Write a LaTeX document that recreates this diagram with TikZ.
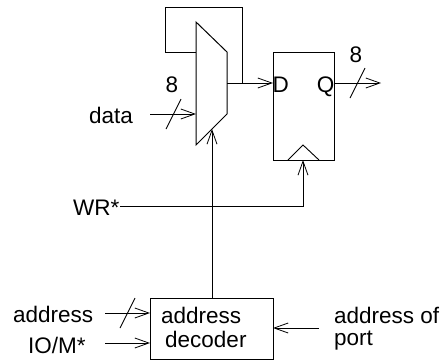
\documentclass[tikz,border=0pt]{standalone}
\usepackage{fontspec}
\setmainfont{Liberation Sans}
\usetikzlibrary{arrows.meta}
\tikzset{
  x=1pt,y=-1pt,
  wire/.style={line width=0.9pt,black},
  arr/.style={wire,-{Straight Barb[length=14pt,width=10pt,line width=0.8pt]}},
  lbl/.style={inner sep=0pt,font=\fontsize{22.5}{24}\selectfont},
  boxn/.style={draw,line width=1pt,inner sep=0pt,minimum width=#1,anchor=north west},
}
\begin{document}
\begin{tikzpicture}
\useasboundingbox (0,0) rectangle (445,360);
% register and decoder
\node[boxn=61pt,minimum height=108pt] (dff) at (273,52) {};
\node[boxn=123pt,minimum height=61pt] (dec) at (150,298) {};
% multiplexer
\coordinate (mt) at (196,22);
\coordinate (mb) at (196,145);
\coordinate (mrt) at (227,52);
\coordinate (mrb) at (227,114);
\coordinate (mfb) at (196,52);
\coordinate (mout) at (227,83);
\coordinate (mdata) at (196,114);
\coordinate (msel) at (212,129);
\draw[line width=1pt,line join=miter] (mt) -- (mrt) -- (mrb) -- (mb) -- cycle;
% clock triangle
\coordinate (cl) at (288,160);
\coordinate (ct) at (303,145);
\coordinate (cr) at (319,160);
\coordinate (clk) at (303,160);
\draw[wire] (cl) -- (ct) -- (cr);
% feedback
\coordinate (f1) at (165.5,52);
\coordinate (f2) at (165.5,7);
\coordinate (f3) at (242,7);
\coordinate (f4) at (242,83);
\draw[wire] (mfb) -- (f1) -- (f2) -- (f3) -- (f4);
% mux output
\coordinate (din) at (273,83);
\draw[arr] (mout) -- (din);
% labels
\node[lbl,anchor=base west] (d) at (272.5,92) {D};
\node[lbl,anchor=base east] (q) at (334.5,92) {Q};
\node[lbl,anchor=base] (n8a) at (172,92) {8};
\node[lbl,anchor=base] (n8b) at (356,62) {8};
\node[lbl,anchor=base west] (data) at (89,123) {data};
\node[lbl,anchor=base west] (wr) at (73,215) {WR*};
\node[lbl,anchor=base west] (addr) at (13,322) {address};
\node[lbl,anchor=base west] (iom) at (28,353) {IO/M*};
\node[lbl,anchor=base west] (deca) at (161,323) {address};
\node[lbl,anchor=base west] (decb) at (165,347) {decoder};
\node[lbl,anchor=base west] (ap1) at (334,323) {address of};
\node[lbl,anchor=base west] (ap2) at (334,345) {port};
% data input
\coordinate (datas) at (150,114);
\draw[arr] (datas) -- (mdata);
\coordinate (sa1) at (166,129);
\coordinate (sa2) at (181,99);
\draw[wire] (sa1) -- (sa2);
% Q output
\coordinate (qs) at (334,83);
\coordinate (qe) at (381,83);
\draw[arr] (qs) -- (qe);
\coordinate (sb1) at (350,98);
\coordinate (sb2) at (365,68);
\draw[wire] (sb1) -- (sb2);
% WR
\coordinate (wrs) at (120,206);
\coordinate (wrc) at (303,206);
\draw[arr] (wrs) -- (wrc) -- (clk);
% select
\coordinate (decs) at (212,298);
\draw[arr] (decs) -- (msel);
% decoder inputs
\coordinate (as) at (105,313);
\coordinate (ae) at (150,313);
\draw[arr] (as) -- (ae);
\coordinate (sc1) at (120,328);
\coordinate (sc2) at (135,298);
\draw[wire] (sc1) -- (sc2);
\coordinate (is) at (105,343);
\coordinate (ie) at (150,343);
\draw[arr] (is) -- (ie);
\coordinate (ps) at (319,328);
\coordinate (pe) at (273,328);
\draw[arr] (ps) -- (pe);
\end{tikzpicture}
\end{document}
